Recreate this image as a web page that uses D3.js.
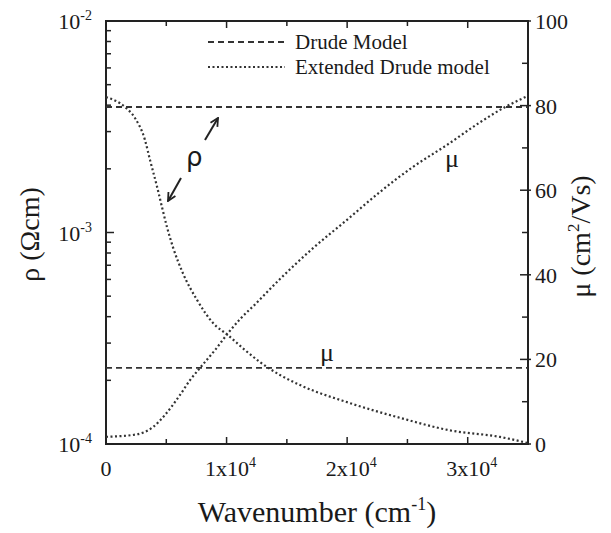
<!DOCTYPE html>
<html>
<head>
<meta charset="utf-8">
<script src="https://cdn.jsdelivr.net/npm/d3@7"></script>
<style>
body{margin:0;background:#fff;}
</style>
</head>
<body>
<svg id="chart" width="611" height="533" font-family="'Liberation Serif', 'Times New Roman', serif"></svg>
<script>
// wavenumber (cm-1) for the extended model curves
var rhoWave = [0, 1576, 2400, 3230, 3650, 4230, 4640, 5060, 5560, 6390, 7550, 8880, 10120, 11530, 12770, 14430, 16090, 20240, 24380, 28530, 32680, 35000];
var rhoExt  = [4.37e-3, 3.92e-3, 3.48e-3, 2.74e-3, 2.2e-3, 1.65e-3, 1.32e-3, 1.06e-3, 8.5e-4, 6.4e-4, 4.8e-4, 3.73e-4, 3.27e-4, 2.78e-4, 2.44e-4, 2.12e-4, 1.9e-4, 1.56e-4, 1.33e-4, 1.16e-4, 1.08e-4, 1.01e-4];
var muWave  = [0, 2400, 3900, 4900, 6140, 6970, 7800, 9040, 10120, 11110, 12360, 14430, 17170, 19990, 22730, 25460, 28280, 30940, 33000, 35000];
var muExt   = [1.7, 2.2, 4.0, 6.9, 11.6, 15.1, 18.0, 22.2, 26.2, 29.5, 33.0, 39.0, 46.3, 53.0, 59.6, 65.5, 70.7, 75.9, 79.5, 82.3];
var rhoDrude = 3.92e-3;
var muDrude = 18.0;
var xTicks = [0, 10000, 20000, 30000];
var xTickLabels = ['0', '1x10', '2x10', '3x10'];
var rhoTicks = [1e-4, 1e-3, 1e-2];
var rhoTickExp = ['-4', '-3', '-2'];
var muTicks = [0, 20, 40, 60, 80, 100];
var legendLabels = ['Drude Model', 'Extended Drude model'];

var svg = d3.select('#chart');
var m = {left:106, right:528, top:21, bottom:444};
var lineColor = '#333';
var inkColor = '#1a1a1a';

var x = d3.scaleLinear().domain([0, 35000]).range([m.left, m.right]);
var yRho = d3.scaleLog().domain([1e-4, 1e-2]).range([m.bottom, m.top]);
var yMu = d3.scaleLinear().domain([0, 100]).range([m.bottom, m.top]);

// frame
svg.append('rect')
	.attr('x', m.left).attr('y', m.top)
	.attr('width', m.right - m.left).attr('height', m.bottom - m.top)
	.attr('fill', 'none').attr('stroke', '#222').attr('stroke-width', 2);

var ticks = svg.append('g').attr('stroke', '#222').attr('stroke-width', 1.5);

// x ticks, bottom and top, every 5000
d3.range(0, 35001, 5000).forEach(function(v){
	var len = (v % 10000 === 0) ? 7 : 5;
	ticks.append('line').attr('x1', x(v)).attr('x2', x(v)).attr('y1', m.bottom).attr('y2', m.bottom - len);
	ticks.append('line').attr('x1', x(v)).attr('x2', x(v)).attr('y1', m.top).attr('y2', m.top + len);
});

// left log ticks
[1e-4, 1e-3].forEach(function(dec){
	for (var k = 1; k <= 9; k++){
		var v = dec * k;
		var len = (k === 1) ? 8 : 5;
		ticks.append('line').attr('x1', m.left).attr('x2', m.left + len).attr('y1', yRho(v)).attr('y2', yRho(v));
	}
});

// right ticks every 10
d3.range(0, 101, 10).forEach(function(v){
	var major = v % 20 === 0;
	ticks.append('line')
		.attr('x1', m.right - (major ? 8 : 6)).attr('x2', m.right + (major ? 3 : 0))
		.attr('y1', yMu(v)).attr('y2', yMu(v));
});

// tick labels
var xl = svg.append('g').attr('font-size', 22).attr('fill', inkColor);
xTicks.forEach(function(v, i){
	var t = xl.append('text').attr('x', x(v) + (v ? 4 : 0)).attr('y', m.bottom + 32).attr('text-anchor', 'middle');
	t.append('tspan').text(xTickLabels[i]);
	if (v !== 0) t.append('tspan').attr('dy', -9).attr('font-size', 14).text('4');
});

rhoTicks.forEach(function(v, i){
	var t = xl.append('text').attr('x', m.left - 14).attr('y', yRho(v) + 8).attr('text-anchor', 'end');
	t.append('tspan').text('10');
	t.append('tspan').attr('dy', -9).attr('font-size', 14).text(rhoTickExp[i]);
});

muTicks.forEach(function(v){
	xl.append('text').attr('x', m.right + 7).attr('y', yMu(v) + 8).text(v);
});

// axis titles
svg.append('text')
	.attr('x', 317).attr('y', 522).attr('fill', inkColor)
	.attr('text-anchor', 'middle').attr('font-size', 30)
	.html('Wavenumber (cm<tspan dy="-12" font-size="18">-1</tspan><tspan dy="12">)</tspan>');

svg.append('text')
	.attr('transform', 'translate(39,' + ((m.top + m.bottom) / 2 + 2) + ') rotate(-90)')
	.attr('text-anchor', 'middle').attr('font-size', 28).attr('fill', inkColor)
	.text('\u03c1 (\u03a9cm)');

svg.append('text')
	.attr('transform', 'translate(590,' + ((m.top + m.bottom) / 2 + 4) + ') rotate(-90)')
	.attr('text-anchor', 'middle').attr('font-size', 28).attr('fill', inkColor)
	.html('\u03bc (cm<tspan dy="-11" font-size="17">2</tspan><tspan dy="11">/Vs)</tspan>');

// data lines
var plot = svg.append('g');
var dashed = '6,4';
var dotted = '2,2.5';

plot.append('line')
	.attr('x1', m.left).attr('x2', m.right)
	.attr('y1', yRho(rhoDrude)).attr('y2', yRho(rhoDrude))
	.attr('stroke', lineColor).attr('stroke-width', 1.8).attr('stroke-dasharray', dashed);

plot.append('line')
	.attr('x1', m.left).attr('x2', m.right)
	.attr('y1', yMu(muDrude)).attr('y2', yMu(muDrude))
	.attr('stroke', lineColor).attr('stroke-width', 1.8).attr('stroke-dasharray', dashed);

var rhoLine = d3.line()
	.x(function(d, i){ return x(rhoWave[i]); })
	.y(function(d){ return yRho(d); })
	.curve(d3.curveMonotoneX);
plot.append('path').datum(rhoExt)
	.attr('d', rhoLine)
	.attr('fill', 'none').attr('stroke', lineColor).attr('stroke-width', 2.2).attr('stroke-dasharray', dotted);

var muLine = d3.line()
	.x(function(d, i){ return x(muWave[i]); })
	.y(function(d){ return yMu(d); })
	.curve(d3.curveMonotoneX);
plot.append('path').datum(muExt)
	.attr('d', muLine)
	.attr('fill', 'none').attr('stroke', lineColor).attr('stroke-width', 2.2).attr('stroke-dasharray', dotted);

// legend
var lg = svg.append('g').attr('font-size', 21).attr('fill', inkColor);
[dashed, dotted].forEach(function(da, i){
	var ly = 42 + i * 25;
	lg.append('line').attr('x1', 208).attr('x2', 285).attr('y1', ly).attr('y2', ly)
		.attr('stroke', lineColor).attr('stroke-width', i ? 2.2 : 1.8).attr('stroke-dasharray', da);
	lg.append('text').attr('x', 295).attr('y', ly + 7).text(legendLabels[i]);
});

// annotations
svg.append('text').attr('x', 186).attr('y', 166).attr('font-size', 26).attr('fill', inkColor)
	.attr('font-family', 'DejaVu Sans').text('\u03c1');
svg.append('text').attr('x', 445).attr('y', 167).attr('font-size', 26).attr('fill', inkColor).text('\u03bc');
svg.append('text').attr('x', 320).attr('y', 361).attr('font-size', 26).attr('fill', inkColor).text('\u03bc');

svg.append('defs').append('marker')
	.attr('id', 'arr').attr('viewBox', '0 0 10 10').attr('refX', 9).attr('refY', 5)
	.attr('markerWidth', 5).attr('markerHeight', 5).attr('orient', 'auto')
	.append('path').attr('d', 'M1,1 L9,5 L1,9').attr('fill', 'none').attr('stroke', '#222').attr('stroke-width', 1.8);

svg.append('line').attr('x1', 205).attr('y1', 140).attr('x2', 218).attr('y2', 118)
	.attr('stroke', '#222').attr('stroke-width', 2).attr('marker-end', 'url(#arr)');
svg.append('line').attr('x1', 181).attr('y1', 178).attr('x2', 168).attr('y2', 201)
	.attr('stroke', '#222').attr('stroke-width', 2).attr('marker-end', 'url(#arr)');
</script>
</body>
</html>
